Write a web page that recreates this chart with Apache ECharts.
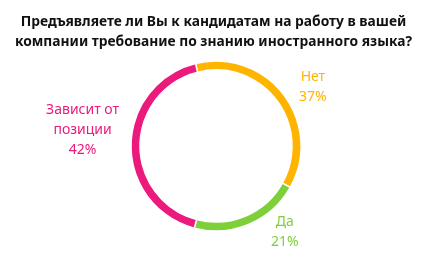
<!DOCTYPE html>
<html><head><meta charset="utf-8">
<script src="https://cdn.jsdelivr.net/npm/echarts@6/dist/echarts.min.js"></script>
<style>html,body{margin:0;padding:0;background:#fff}#c{width:427px;height:256px}</style>
</head><body><div id="c"></div>
<script>
const titleLines = ['Предъявляете ли Вы к кандидатам на работу в вашей', 'компании требование по знанию иностранного языка?'];
const categories = ['Нет', 'Да', 'Зависит от\nпозиции'];
const values = [37, 21, 42];
const colors = ['#FFB400', '#7ED03A', '#EB1A7C'];
const labelNudge = [[1, 0], [12, -3], [5, -15]];

const chart = echarts.init(document.getElementById('c'), null, {renderer: 'canvas'});
chart.setOption({
  animation: false,
  title: {
    text: titleLines.join('\n'),
    left: 'center', top: 7,
    padding: [5, 0, 5, 5],
    textStyle: {fontFamily: 'Noto Sans', fontWeight: 'bold', fontSize: 13.8, lineHeight: 20, color: '#111'}
  },
  series: [{
    type: 'pie',
    center: [216, 146],
    radius: [76, 85],
    startAngle: 104,
    clockwise: true,
    itemStyle: {borderColor: '#fff', borderWidth: 1.5},
    label: {
      show: true, position: 'outside',
      formatter: p => p.name + '\n' + p.value + '%',
      fontFamily: 'Noto Sans', fontSize: 14, lineHeight: 20,
      color: 'inherit'
    },
    labelLine: {show: false, length: 12, length2: 0},
    labelLayout: p => ({
      x: p.labelRect.x + p.labelRect.width / 2 + labelNudge[p.dataIndex][0],
      y: p.labelRect.y + p.labelRect.height / 2 + labelNudge[p.dataIndex][1],
      align: 'center', verticalAlign: 'middle'
    }),
    data: categories.map((n, i) => ({name: n, value: values[i], itemStyle: {color: colors[i]}, label: {color: colors[i]}}))
  }]
});
</script></body></html>
